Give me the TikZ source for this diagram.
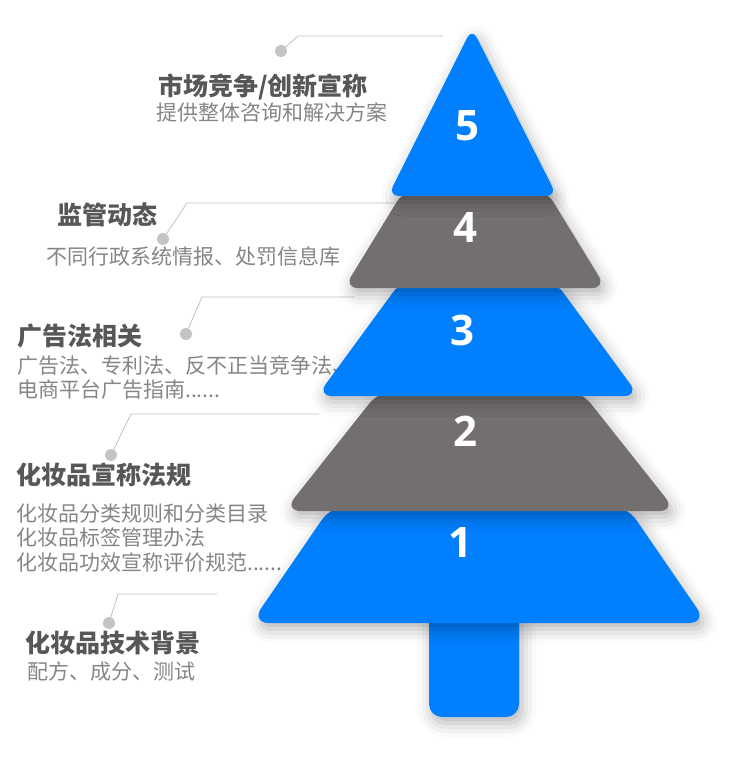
\documentclass[tikz,border=0pt]{standalone}
\usepackage{fontspec}
\usepackage{xcolor}
\newfontfamily\cjk{Noto Sans CJK SC}
\newfontfamily\numfont{Open Sans}
\usetikzlibrary{positioning, shadows.blur}

\definecolor{treeblue}{HTML}{0080FF}
\definecolor{treegray}{HTML}{736F6E}
\definecolor{headgray}{HTML}{575757}
\definecolor{subgray}{HTML}{858585}
\definecolor{dotgray}{HTML}{C4C4C4}
\definecolor{linegray}{HTML}{C0C0C0}

\tikzset{
    treeshadow/.style={blur shadow={shadow xshift=3pt, shadow yshift=-6pt, shadow blur radius=14pt, shadow opacity=30}},
    bluetier/.style={fill=treeblue, rounded corners=#1, treeshadow},
    bluetier/.default=11pt,
    graytier/.style={fill=treegray, rounded corners=#1, treeshadow},
    graytier/.default=11pt,
    numtext/.style={text=white, font=\numfont\bfseries\fontsize{42}{42}\selectfont, inner sep=0pt},
    headtext/.style={anchor=west, inner sep=0pt, text=headgray, font=\cjk\bfseries\fontsize{25}{30}\selectfont},
    subtext/.style={anchor=west, inner sep=0pt, align=left, text=subgray, font=\cjk\fontsize{21}{24.5}\selectfont},
    bullet/.style={circle, fill=dotgray, minimum size=12pt, inner sep=0pt},
    leader/.style={draw=linegray, line width=0.8pt}
}

\begin{document}
\begin{tikzpicture}[x=1pt, y=-1pt]
            \useasboundingbox (0,0) rectangle (746,767);

            \node[bullet] (d5) at (281,51) {};
            \node[bullet] (d4) at (163,239) {};
            \node[bullet] (d3) at (186,334) {};
            \node[bullet] (d2) at (111,455) {};
            \node[bullet] (d1) at (109,623) {};
            \coordinate (k5) at (298,36);  \coordinate (e5) at (443,36);
            \coordinate (k4) at (187,203); \coordinate (e4) at (405,203);
            \coordinate (k3) at (202,297); \coordinate (e3) at (354,297);
            \coordinate (k2) at (131,414); \coordinate (e2) at (319,414);
            \coordinate (k1) at (118,594); \coordinate (e1) at (217,594);
            \draw[leader] (d5) -- (k5) -- (e5);
            \draw[leader] (d4) -- (k4) -- (e4);
            \draw[leader] (d3) -- (k3) -- (e3);
            \draw[leader] (d2) -- (k2) -- (e2);
            \draw[leader] (d1) -- (k1) -- (e1);

            \node[headtext] (h5) at (158,87) {市场竞争/创新宣称};
            \node[subtext] (s5) at (156,113) {提供整体咨询和解决方案};
            \node[headtext] (h4) at (57,215) {监管动态};
            \node[subtext] (s4) at (46,256) {不同行政系统情报、处罚信息库};
            \node[headtext] (h3) at (17,336) {广告法相关};
            \node[subtext] (s3) at (17,377.5) {广告法、专利法、反不正当竞争法、\\电商平台广告指南......};
            \node[headtext] (h2) at (16,475) {化妆品宣称法规};
            \node[subtext] (s2) at (16,538) {化妆品分类规则和分类目录\\化妆品标签管理办法\\化妆品功效宣称评价规范......};
            \node[headtext] (h1) at (25,643) {化妆品技术背景};
            \node[subtext] (s1) at (27,672) {配方、成分、测试};

            \path[bluetier=13pt] (429,600) -- (519,600) -- (519,717) -- (429,717) -- cycle;
            \path[bluetier=18pt] (332,505) -- (626,505) -- (707,623) -- (251,623) -- cycle;
            \path[graytier=17pt] (380,390) -- (580,390) -- (676,511) -- (284,511) -- cycle;
            \path[bluetier=15pt] (402,280) -- (554,280) -- (639,396) -- (317,396) -- cycle;
            \path[graytier=14pt] (404,190) -- (546,190) -- (606,288) -- (344,288) -- cycle;
            \path[bluetier=11pt] (472,28) -- (557,196) -- (388,196) -- cycle;

            \node[numtext] (t5) at (467,126) {5};
            \node[numtext] (t4) at (465,228) {4};
            \node[numtext] (t3) at (462,330) {3};
            \node[numtext] (t2) at (465,431) {2};
            \node[numtext] (t1) at (460,543) {1};
\end{tikzpicture}
\end{document}
